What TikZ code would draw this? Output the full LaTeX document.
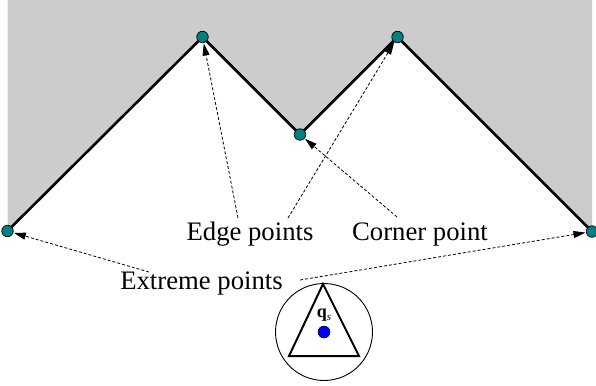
\documentclass[tikz,border=0pt]{standalone}
\usepackage{fontspec}
\setmainfont{Liberation Serif}
\usetikzlibrary{arrows.meta}
\definecolor{regiongray}{HTML}{CCCCCC}
\definecolor{ptteal}{HTML}{008080}
\tikzset{
  pt/.style={circle, draw=black, line width=0.7pt, fill=ptteal, minimum size=11.5pt, inner sep=0pt},
  lbl/.style={anchor=base, inner sep=0pt, font=\fontsize{26.7}{30}\selectfont},
  pointer/.style={dashed, dash pattern=on 3pt off 2pt, line width=0.8pt, -{Triangle[length=12pt,width=7pt]}, shorten >=0.5pt},
  boundary/.style={line width=2.6pt, line join=miter}
}
\begin{document}
\begin{tikzpicture}[x=1pt,y=-1pt]
\useasboundingbox (0,0) rectangle (596,385);
% vertices
\coordinate (c1) at (7.5,231);
\coordinate (c2) at (202.5,37);
\coordinate (c3) at (300,134.5);
\coordinate (c4) at (397.5,37);
\coordinate (c5) at (592,231.5);
% obstacle region
\fill[regiongray] (7.5,0) -- (c1) -- (c2) -- (c3) -- (c4) -- (c5) -- (592,0) -- cycle;
\draw[boundary] (c1) -- (c2) -- (c3) -- (c4) -- (c5);
\node[pt] (p1) at (c1) {};
\node[pt] (p2) at (c2) {};
\node[pt] (p3) at (c3) {};
\node[pt] (p4) at (c4) {};
\node[pt] (p5) at (c5) {};
% labels
\node[lbl] (edge) at (250,240.7) {Edge points};
\node[lbl] (corner) at (420,240.7) {Corner point};
\node[lbl] (extreme) at (201.5,289) {Extreme points};
% arrow tails
\coordinate (e1) at (238,218);
\coordinate (e2) at (288,218);
\coordinate (k1) at (397,217);
\coordinate (x1) at (149,272);
\coordinate (x2) at (300,280);
\draw[pointer] (e1) -- (p2);
\draw[pointer] (e2) -- (p4);
\draw[pointer] (k1) -- (p3);
\draw[pointer] (x1) -- (p1);
\draw[pointer] (x2) -- (p5);
% sensor
\node[circle, draw=black, line width=0.9pt, minimum size=97pt, inner sep=0pt] (range) at (324,332) {};
\coordinate (t1) at (323,284);
\coordinate (t2) at (289,356);
\coordinate (t3) at (359,356);
\draw[line width=2pt, line join=miter] (t1) -- (t2) -- (t3) -- cycle;
\node[circle, fill=blue, draw=black, line width=0.5pt, minimum size=12pt, inner sep=0pt] (qs) at (324,332) {};
\node[inner sep=0pt, anchor=base] (qlabel) at (324,317) {\fontsize{18}{20}\selectfont\bfseries q\raisebox{-3pt}{\fontsize{11}{12}\selectfont\mdseries\itshape s}};
\end{tikzpicture}
\end{document}
